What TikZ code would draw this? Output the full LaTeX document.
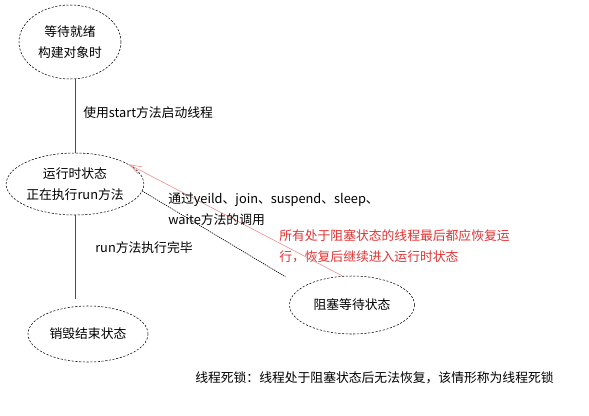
\documentclass[tikz,border=0pt]{standalone}
\usepackage{fontspec}
\newfontfamily\cjk{Noto Sans CJK SC}
\usepackage{tikz}
\usetikzlibrary{shapes.geometric,arrows.meta}
\definecolor{resumered}{RGB}{228,50,50}

\begin{document}
\begin{tikzpicture}[x=0.75pt,y=0.75pt,yscale=-1,xscale=1,
    state/.style={ellipse, draw, dash pattern=on 1.6pt off 1.2pt, line width=0.4pt, inner sep=0pt, align=center, font=\cjk\fontsize{9.6}{15.75}\selectfont},
    note/.style={anchor=west, inner sep=0.75pt, align=left, font=\cjk\fontsize{9.6}{15.75}\selectfont}]
            \useasboundingbox (0,0) rectangle (589,415);

            % States
            \draw (70,42) node (ready) [state, minimum width=76.5pt, minimum height=55.5pt] {等待就绪\\构建对象时};
            \draw (75,184) node (run) [state, minimum width=87pt, minimum height=46.5pt] {运行时状态\\正在执行run方法};
            \draw (88,334) node (dead) [state, minimum width=90pt, minimum height=42pt] {销毁结束状态};
            \draw (352,305) node (block) [state, minimum width=93.75pt, minimum height=43.5pt] {阻塞等待状态};

            % Transitions
            \draw [line width=0.4pt, black!70]   (run.north |- ready.south) -- (run.north);
            \draw [line width=0.4pt, black!70, shorten >=5pt]   (run.south) -- (run.south |- dead.north);
            \draw [line width=0.5pt, dash pattern=on 0.9pt off 0.7pt, shorten >=15pt]   (run.-6) -- (block.160);
            \draw [line width=0.4pt, resumered!60, -{Straight Barb[length=9pt,width=6pt]}]   (block.108) -- (run.20);

            % Labels
            \draw (82,113) node [note] {使用start方法启动线程};
            \draw (167,209.5) node [note] {通过yeild、join、suspend、sleep、\\waite方法的调用};
            \draw (94,248) node [note] {run方法执行完毕};
            \draw (278,246.5) node [note, text=resumered] {所有处于阻塞状态的线程最后都应恢复运\\行，恢复后继续进入运行时状态};
            \draw (194,378) node [note] {线程死锁：线程处于阻塞状态后无法恢复，该情形称为线程死锁};

            \end{tikzpicture}
\end{document}
